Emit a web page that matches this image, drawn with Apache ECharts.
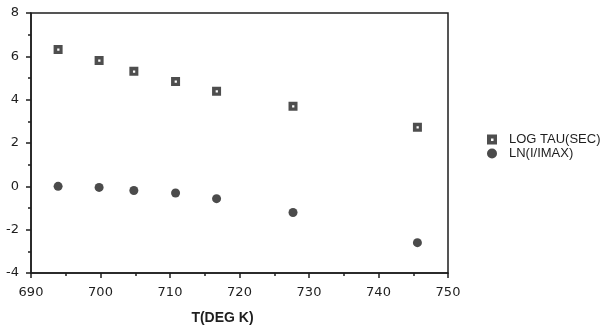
<!DOCTYPE html>
<html>
<head>
<meta charset="utf-8">
<script src="https://cdn.jsdelivr.net/npm/echarts@6/dist/echarts.min.js"></script>
<style>html,body{margin:0;padding:0;background:#fff}#c{width:610px;height:327px}</style>
</head>
<body>
<div id="c"></div>
<script>
var temps = [693.9, 699.8, 704.8, 710.8, 716.7, 727.7, 745.6];
var logTau = [6.32, 5.81, 5.31, 4.84, 4.39, 3.70, 2.73];
var lnRatio = [0.0, -0.05, -0.19, -0.31, -0.57, -1.21, -2.60];
var seriesNames = ['LOG TAU(SEC)', 'LN(I/IMAX)'];
var xTitle = 'T(DEG K)';

var ink = '#1e1e1e';
var sq = 'path://M0,0H10V10H0Z M4,4V6.5H6.5V4Z';
function pairs(xs, ys){ return xs.map(function(x,i){ return [x, ys[i]]; }); }

var chart = echarts.init(document.getElementById('c'));
chart.setOption({
  backgroundColor: '#fff',
  animation: false,
  grid: { left: 31, right: 162, top: 13, bottom: 54, outerBoundsMode: 'none', containLabel: false, show: true, borderColor: ink, borderWidth: 1.5, backgroundColor: 'transparent' },
  legend: {
    orient: 'vertical', left: 482, top: 128, itemGap: 1, itemWidth: 10, itemHeight: 10,
    textStyle: { color: ink, fontSize: 13, fontFamily: 'Liberation Sans, Arial', padding: [0, 0, 0, 7] },
    data: [{ name: seriesNames[0], icon: sq }, { name: seriesNames[1], icon: 'circle' }]
  },
  xAxis: {
    type: 'value', min: 690, max: 750, interval: 10,
    name: xTitle, nameLocation: 'middle', nameGap: 38, nameMoveOverlap: false,
    nameTextStyle: { color: ink, fontSize: 14, fontWeight: 'bold', fontFamily: 'Liberation Sans, Arial', padding: [0, 34, 0, 0] },
    axisLine: { show: true, onZero: false, lineStyle: { color: ink, width: 1.5 } },
    axisTick: { show: true, length: 5, lineStyle: { color: ink, width: 1.5 } },
    minorTick: { show: true, splitNumber: 2, length: 3, lineStyle: { color: ink, width: 1.5 } },
    axisLabel: { color: ink, fontSize: 13, margin: 13, fontFamily: 'DejaVu Sans' },
    splitLine: { show: false }
  },
  yAxis: {
    type: 'value', min: -4, max: 8, interval: 2,
    axisLine: { show: true, onZero: false, lineStyle: { color: ink, width: 1.5 } },
    axisTick: { show: true, length: 5, lineStyle: { color: ink, width: 1.5 } },
    minorTick: { show: true, splitNumber: 2, length: 3, lineStyle: { color: ink, width: 1.5 } },
    axisLabel: { color: ink, fontSize: 13, margin: 12, fontFamily: 'DejaVu Sans' },
    splitLine: { show: false }
  },
  series: [
    { name: seriesNames[0], type: 'scatter', symbol: sq, symbolSize: 9,
      itemStyle: { color: '#222' }, data: pairs(temps, logTau) },
    { name: seriesNames[1], type: 'scatter', symbol: 'circle', symbolSize: 9,
      itemStyle: { color: '#1e1e1e' }, data: pairs(temps, lnRatio) }
  ]
});
</script>
</body>
</html>
